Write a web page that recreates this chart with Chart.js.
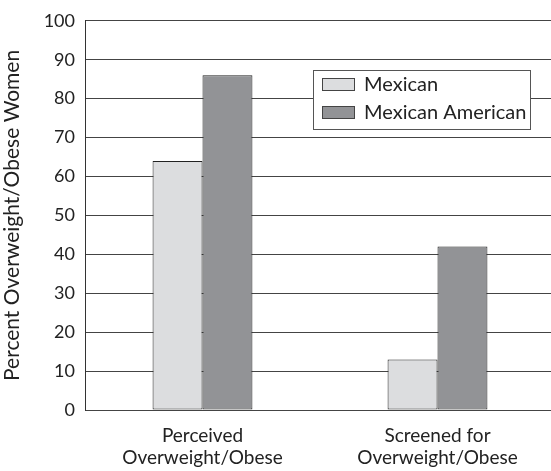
<!DOCTYPE html>
<html>
<head>
<meta charset="utf-8">
<script src="https://cdn.jsdelivr.net/npm/chart.js@4.4.0/dist/chart.umd.min.js"></script>
<style>
  html, body { margin: 0; padding: 0; background: #fff; overflow: hidden; }
  #wrap { width: 560px; height: 471px; }
</style>
</head>
<body>
<div id="wrap"><canvas id="chart" width="560" height="471"></canvas></div>
<script>
categories = [["Perceived", "Overweight/Obese"], ["Screened for", "Overweight/Obese"]]
mexican = [64, 13]
mexican_american = [86, 42]
y_title = "Percent Overweight/Obese Women"

font_family = "Lato, 'Open Sans', sans-serif"
text_color = "#222"

// legend drawn inside the plot, boxed, like the original figure
boxLegend = {
  id: "boxLegend",
  afterDraw(c) {
    const ctx = c.ctx
    const x = 313, y = 70, w = 217, h = 59
    ctx.save()
    ctx.fillStyle = "#fff"
    ctx.fillRect(x, y, w, h)
    ctx.strokeStyle = "#555"
    ctx.lineWidth = 1
    ctx.strokeRect(x + 0.5, y + 0.5, w, h)
    ctx.font = "20px " + font_family
    ctx.textBaseline = "middle"
    c.data.datasets.forEach((ds, i) => {
      const sy = y + 8 + i * 28
      ctx.fillStyle = ds.backgroundColor
      ctx.fillRect(x + 9, sy, 32, 12)
      ctx.strokeStyle = "#444"
      ctx.strokeRect(x + 9.5, sy + 0.5, 32, 12)
      ctx.fillStyle = text_color
      ctx.fillText(ds.label, x + 51, sy + 7)
    })
    ctx.restore()
  }
}

chart = new Chart(document.getElementById("chart"), {
  type: "bar",
  data: {
    labels: categories,
    datasets: [
      { label: "Mexican", data: mexican, backgroundColor: "#dcdddf", borderColor: "#222", borderWidth: 1, borderSkipped: false },
      { label: "Mexican American", data: mexican_american, backgroundColor: "#929396", borderColor: "#222", borderWidth: 1, borderSkipped: false }
    ]
  },
  options: {
    responsive: false,
    animation: false,
    layout: { padding: { top: 14, right: 5, left: 0, bottom: 0 } },
    categoryPercentage: 0.425,
    barPercentage: 1,
    plugins: {
      legend: { display: false },
      tooltip: { enabled: false }
    },
    scales: {
      x: {
        grid: { display: false, drawTicks: false },
        border: { display: false },
        ticks: { color: text_color, font: { family: font_family, size: 19, lineHeight: 1.15 }, padding: 15, maxRotation: 0 },
        afterFit(s) { s.height = 61 }
      },
      y: {
        min: 0,
        max: 100,
        ticks: { stepSize: 10, color: text_color, font: { family: font_family, size: 18 }, padding: 10 },
        grid: { color: "#444", drawTicks: false, lineWidth: 1 },
        border: { display: true, color: "#333" },
        title: { display: true, text: y_title, color: text_color, font: { family: font_family, size: 21 }, padding: { top: 0, bottom: 0 } },
        afterFit(s) { s.width = 85 }
      }
    }
  },
  plugins: [boxLegend]
})
</script>
</body>
</html>
